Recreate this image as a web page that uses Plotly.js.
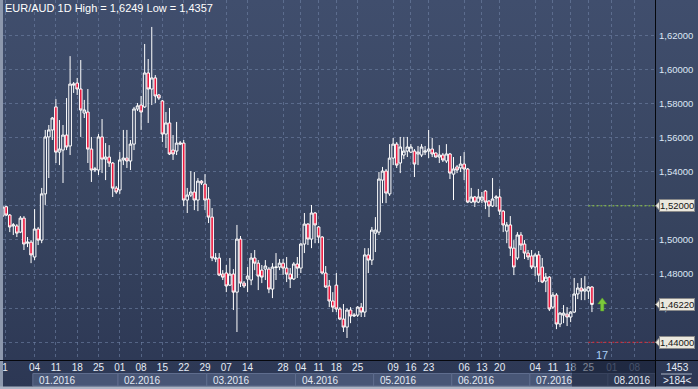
<!DOCTYPE html>
<html><head><meta charset="utf-8">
<script src="https://cdn.plot.ly/plotly-3.0.1.min.js"></script>
<style>
html,body{margin:0;padding:0;background:#2f3a57;}
#wrap{position:relative;width:698px;height:389px;overflow:hidden;
 background:linear-gradient(to bottom,#404e6d 0%,#37445f 55%,#2c3754 100%);}
#chart{position:absolute;left:0;top:0;width:698px;height:389px;}
</style></head><body><div id="wrap"><div id="chart"></div></div>
<script>
// ---- data (EUR/AUD daily candles) ----
const open = [1.5140,1.5195,1.5146,1.5082,1.5082,1.5046,1.5128,1.4981,1.4987,1.4900,1.5064,1.4999,1.5270,1.5604,1.5645,1.5780,1.5515,1.5527,1.5615,1.5551,1.5908,1.5920,1.5885,1.5744,1.5750,1.5533,1.5410,1.5410,1.5604,1.5474,1.5486,1.5451,1.5304,1.5293,1.5469,1.5480,1.5463,1.5562,1.5768,1.5791,1.5780,1.5979,1.5885,1.5950,1.5850,1.5815,1.5621,1.5686,1.5527,1.5521,1.5562,1.5568,1.5234,1.5263,1.5281,1.5234,1.5345,1.5328,1.5240,1.5134,1.4888,1.4894,1.4800,1.4806,1.4735,1.4800,1.4694,1.5005,1.4747,1.4771,1.4765,1.4894,1.4864,1.4823,1.4829,1.4829,1.4712,1.4838,1.4841,1.4864,1.4835,1.4800,1.4771,1.4859,1.4835,1.4976,1.5093,1.5005,1.5158,1.5076,1.5017,1.4806,1.4730,1.4642,1.4735,1.4595,1.4536,1.4489,1.4589,1.4554,1.4559,1.4606,1.4577,1.4912,1.4882,1.5040,1.5046,1.5351,1.5404,1.5270,1.5480,1.5562,1.5451,1.5498,1.5521,1.5515,1.5521,1.5504,1.5498,1.5515,1.5521,1.5533,1.5510,1.5486,1.5498,1.5463,1.5504,1.5386,1.5428,1.5422,1.5445,1.5416,1.5222,1.5252,1.5222,1.5234,1.5287,1.5228,1.5199,1.5246,1.5252,1.5169,1.5052,1.5088,1.4952,1.4894,1.5029,1.4976,1.4923,1.4906,1.4841,1.4912,1.4841,1.4759,1.4782,1.4606,1.4677,1.4507,1.4559,1.4565,1.4548,1.4577,1.4683,1.4718,1.4700,1.4700,1.4724];
const high = [1.5199,1.5201,1.5152,1.5099,1.5093,1.5140,1.5140,1.5017,1.4999,1.5181,1.5076,1.5305,1.5645,1.5674,1.5721,1.5826,1.5703,1.5674,1.5832,1.6078,1.5926,1.5950,1.6055,1.5821,1.5885,1.5604,1.5428,1.5621,1.5709,1.5568,1.5556,1.5457,1.5316,1.5515,1.5645,1.5645,1.5586,1.5780,1.5803,1.5844,1.6149,1.6061,1.6249,1.5967,1.5856,1.5821,1.5750,1.5774,1.5615,1.5692,1.5580,1.5586,1.5305,1.5404,1.5398,1.5363,1.5351,1.5386,1.5310,1.5187,1.4923,1.4923,1.4823,1.4853,1.4894,1.4829,1.5088,1.5023,1.4759,1.4841,1.4923,1.4941,1.4882,1.4853,1.4882,1.4841,1.4864,1.4923,1.4888,1.4888,1.4900,1.4835,1.4870,1.4900,1.4981,1.5158,1.5099,1.5205,1.5164,1.5082,1.5023,1.4847,1.4765,1.4694,1.4806,1.4606,1.4624,1.4600,1.4606,1.4571,1.4612,1.4630,1.4952,1.4952,1.5076,1.5134,1.5398,1.5428,1.5416,1.5562,1.5598,1.5574,1.5604,1.5604,1.5604,1.5562,1.5533,1.5551,1.5562,1.5551,1.5645,1.5598,1.5512,1.5556,1.5510,1.5562,1.5510,1.5486,1.5439,1.5492,1.5515,1.5422,1.5305,1.5258,1.5299,1.5281,1.5293,1.5234,1.5363,1.5263,1.5299,1.5175,1.5105,1.5140,1.4999,1.5046,1.5046,1.4999,1.4941,1.4941,1.4923,1.4935,1.4894,1.4806,1.4788,1.4694,1.4688,1.4577,1.4618,1.4606,1.4583,1.4777,1.4747,1.4777,1.4788,1.4729,1.4729];
const low = [1.5134,1.5140,1.5046,1.5029,1.5017,1.5040,1.4941,1.4958,1.4864,1.4882,1.4970,1.4981,1.5205,1.5363,1.5586,1.5451,1.5439,1.5334,1.5527,1.5498,1.5862,1.5850,1.5604,1.5715,1.5451,1.5340,1.5398,1.5381,1.5392,1.5351,1.5428,1.5252,1.5270,1.5270,1.5439,1.5422,1.5410,1.5527,1.5756,1.5645,1.5774,1.5686,1.5791,1.5803,1.5821,1.5574,1.5539,1.5498,1.5469,1.5498,1.5556,1.5199,1.5158,1.5252,1.5175,1.5169,1.5322,1.5175,1.5099,1.4876,1.4870,1.4788,1.4765,1.4694,1.4730,1.4589,1.4460,1.4724,1.4718,1.4694,1.4735,1.4823,1.4706,1.4747,1.4765,1.4688,1.4659,1.4765,1.4823,1.4794,1.4753,1.4718,1.4765,1.4777,1.4806,1.4923,1.4970,1.4952,1.4981,1.4981,1.4800,1.4718,1.4606,1.4577,1.4577,1.4530,1.4460,1.4425,1.4512,1.4548,1.4548,1.4548,1.4548,1.4806,1.4853,1.4929,1.5029,1.5216,1.5216,1.5258,1.5439,1.5422,1.5392,1.5474,1.5486,1.5510,1.5369,1.5439,1.5486,1.5498,1.5480,1.5486,1.5483,1.5451,1.5457,1.5451,1.5357,1.5234,1.5392,1.5398,1.5351,1.5216,1.5216,1.5193,1.5216,1.5216,1.5181,1.5134,1.5193,1.5193,1.5146,1.5046,1.4981,1.4906,1.4794,1.4882,1.4941,1.4888,1.4882,1.4829,1.4788,1.4753,1.4747,1.4694,1.4583,1.4595,1.4477,1.4489,1.4512,1.4495,1.4518,1.4571,1.4653,1.4647,1.4647,1.4653,1.4577];
const close = [1.5193,1.5146,1.5076,1.5088,1.5040,1.5128,1.4976,1.4987,1.4912,1.5064,1.4999,1.5270,1.5604,1.5645,1.5715,1.5515,1.5533,1.5615,1.5545,1.5914,1.5914,1.5885,1.5762,1.5762,1.5533,1.5410,1.5416,1.5604,1.5474,1.5486,1.5451,1.5304,1.5281,1.5469,1.5480,1.5463,1.5562,1.5768,1.5786,1.5750,1.5979,1.5885,1.5950,1.5844,1.5832,1.5621,1.5686,1.5504,1.5504,1.5568,1.5568,1.5234,1.5263,1.5281,1.5234,1.5345,1.5334,1.5234,1.5134,1.4894,1.4894,1.4794,1.4782,1.4730,1.4800,1.4694,1.5005,1.4747,1.4730,1.4788,1.4894,1.4864,1.4788,1.4782,1.4847,1.4712,1.4841,1.4841,1.4864,1.4835,1.4800,1.4771,1.4859,1.4835,1.4976,1.5093,1.5005,1.5158,1.5088,1.5017,1.4806,1.4724,1.4642,1.4606,1.4595,1.4536,1.4489,1.4589,1.4554,1.4559,1.4606,1.4577,1.4912,1.4882,1.5058,1.5058,1.5357,1.5404,1.5275,1.5480,1.5562,1.5439,1.5545,1.5521,1.5545,1.5545,1.5445,1.5515,1.5545,1.5521,1.5533,1.5504,1.5486,1.5498,1.5469,1.5504,1.5392,1.5416,1.5410,1.5445,1.5416,1.5222,1.5252,1.5222,1.5252,1.5252,1.5222,1.5199,1.5240,1.5252,1.5169,1.5088,1.5088,1.4952,1.4841,1.5029,1.4970,1.4923,1.4900,1.4841,1.4912,1.4794,1.4753,1.4782,1.4595,1.4677,1.4507,1.4571,1.4571,1.4548,1.4577,1.4683,1.4718,1.4700,1.4712,1.4724,1.4622];

const priceTicks = [1.44,1.46,1.48,1.50,1.52,1.54,1.56,1.58,1.60,1.62];
const dayTickBars = [0.7,9,15,21,27,33,39,45,51,57,63,69,79,84,89,94,100,110,115,120,130,135,140,150,155,160,165,171.6,178.0];
const dayTickText = ['1','04','11','18','25','01','08','15','22','29','07','14','28','04','11','18','25','09','16','23','06','13','20','04','11','18','25','01','08'];
const futureTicks = [false,false,false,false,false,false,false,false,false,false,false,false,false,false,false,false,false,false,false,false,false,false,false,false,false,false,false,true,true];
const monthLabels = ['01.2016','02.2016','03.2016','04.2016','05.2016','06.2016','07.2016','08.2016'];
const monthStartBars = [9,33,58,83,105,127,149,171];
const levelValues = [1.52, 1.4622, 1.44];
const levelText = ['1,52000','1,46220','1,44000'];
const dottedLevels = [1.52, 1.44];
const dottedColors = ['#93cc3c','#ec2228'];
const dottedStartBar = 165;
const signalBar = [168.9];
const signalPrice = [1.4660];
const chartTitle = 'EUR/AUD 1D High = 1,6249 Low = 1,4357';
const infoTop = '1453', infoBottom = '>184<', cursorLabel = '17';

// ---- geometry ----
const W = 698, H = 389, ML = 3, MR = 43, MT = 0, MB = 29;
const PW = W - ML - MR, PH = H - MT - MB;
const px = v => (v - ML) / PW;          // pixel -> paper x
const py = v => (H - MB - v) / PH;      // pixel -> paper y
const yMin = 1.4296, yMax = 1.6407, xMin = 0.1, xMax = 183.76;
const perPx = (yMax - yMin) / PH;
const barPx = PW / (xMax - xMin);

const bars = open.map((_, i) => i);
const font = 'Liberation Sans, Arial, sans-serif';
const gridCol = 'rgba(112,130,165,0.6)';

const shapes = [];
const annotations = [];

// side strips and separator lines
shapes.push({type:'rect', xref:'paper', yref:'paper', x0:px(0), x1:px(3), y0:py(H), y1:py(0), fillcolor:'#8d98ad', line:{width:0}, layer:'above'});
shapes.push({type:'rect', xref:'paper', yref:'paper', x0:px(0), x1:px(W), y0:py(H), y1:py(386.5), fillcolor:'#aab3c4', line:{width:0}, layer:'above'});
shapes.push({type:'line', xref:'paper', yref:'paper', x0:px(0), x1:px(W), y0:py(360.5), y1:py(360.5), line:{color:'#05070c', width:1}, layer:'above'});
shapes.push({type:'line', xref:'paper', yref:'paper', x0:px(655.5), x1:px(655.5), y0:py(0), y1:py(386.5), line:{color:'#05070c', width:1}, layer:'above'});

// month boxes on the date axis
monthLabels.forEach((m, i) => {
  const x0 = monthStartBars[i] - 0.5;
  const x1 = i < monthLabels.length - 1 ? monthStartBars[i + 1] - 0.5 : xMax;
  shapes.push({type:'rect', xref:'x', yref:'paper', x0:x0, x1:x1, y0:py(386), y1:py(373.5),
    fillcolor:'#485676', line:{color:'#5f6d8e', width:1}, layer:'below'});
  annotations.push({xref:'x', yref:'paper', x:x0, y:py(380), xanchor:'left', yanchor:'middle', xshift:4,
    text:m, showarrow:false, font:{family:font, size:10, color:'#e3e9f3'}});
});

// dotted level lines
dottedLevels.forEach((v, i) => {
  shapes.push({type:'line', xref:'x', yref:'y', x0:dottedStartBar, x1:xMax, y0:v, y1:v,
    line:{color:dottedColors[i], width:1, dash:'2px,2px'}, layer:'above'});
});

// price badges on the right axis
levelValues.forEach((v, i) => {
  const d = 5 * perPx;
  shapes.push({type:'path', xref:'paper', yref:'y',
    path:`M ${px(655.5)},${v} L ${px(660)},${v + d} L ${px(660)},${v - d} Z`,
    fillcolor:'#ebe8de', line:{color:'#8a8a8a', width:1}, layer:'above'});
  annotations.push({xref:'paper', yref:'y', x:px(659), y:v, xanchor:'left', yanchor:'middle',
    text:levelText[i], showarrow:false, bgcolor:'#ebe8de', bordercolor:'#8a8a8a', borderwidth:1, borderpad:0,
    font:{family:font, size:9.5, color:'#151515'}});
});

// future overlay on the axis panel
shapes.push({type:'rect', xref:'paper', yref:'paper', x0:px(572), x1:px(655), y0:py(386.5), y1:py(361),
  fillcolor:'rgba(18,26,46,0.5)', line:{width:0}, layer:'above'});

// signal arrow (polygon built around the signal point: tip at the signal price)
{
  const cx = signalBar[0], tip = signalPrice[0];
  const bx = p => p / barPx, by = p => p * perPx;
  const pts = [[0,0],[4.5,6],[1.6,6],[1.6,13],[-1.6,13],[-1.6,6],[-4.5,6]];
  const path = pts.map((p, j) => (j ? 'L ' : 'M ') + (cx + bx(p[0])) + ',' + (tip - by(p[1]))).join(' ') + ' Z';
  shapes.push({type:'path', xref:'x', yref:'y', path:path, fillcolor:'#7cc83a', line:{color:'#5fa82a', width:0.5}, layer:'above'});
}

// title
annotations.push({xref:'paper', yref:'paper', x:px(3), y:py(8), xanchor:'left', yanchor:'middle',
  text:chartTitle, showarrow:false, font:{family:font, size:11, color:'#ffffff'}});

// cursor label
annotations.push({xref:'paper', yref:'paper', x:px(602), y:py(355), xanchor:'center', yanchor:'middle',
  text:cursorLabel, showarrow:false, font:{family:font, size:11, color:'#a9cff7'}});

// info box bottom right
annotations.push({xref:'paper', yref:'paper', x:px(677), y:py(367.5), xanchor:'center', yanchor:'middle',
  text:infoTop, showarrow:false, font:{family:font, size:10, color:'#e6ecf5'}});
annotations.push({xref:'paper', yref:'paper', x:px(677), y:py(380.5), xanchor:'center', yanchor:'middle',
  text:infoBottom, showarrow:false, font:{family:font, size:10, color:'#e6ecf5'}});
shapes.push({type:'line', xref:'paper', yref:'paper', x0:px(661), x1:px(692), y0:py(374), y1:py(374),
  line:{color:'#aab4c6', width:1}, layer:'above'});

const tickText = dayTickText.map((t, i) => futureTicks[i] ? `<span style="color:#7c89a6">${t}</span>` : t);

const trace = {
  type:'candlestick', x:bars, open:open, high:high, low:low, close:close,
  increasing:{line:{color:'#ffffff', width:1}, fillcolor:'#34415f'},
  decreasing:{line:{color:'#ffffff', width:1}, fillcolor:'#ec1a40'},
  whiskerwidth:0, hoverinfo:'skip', showlegend:false
};

const layout = {
  width:W, height:H, margin:{l:ML, r:MR, t:MT, b:MB, pad:0},
  paper_bgcolor:'rgba(0,0,0,0)', plot_bgcolor:'rgba(0,0,0,0)',
  separators:', ', showlegend:false, boxgap:0.18, boxgroupgap:0.1,
  font:{family:font, size:10, color:'#e6ecf5'},
  xaxis:{range:[xMin, xMax], tickmode:'array', tickvals:dayTickBars, ticktext:tickText, tickangle:0,
    showgrid:true, gridcolor:gridCol, griddash:'3px,3px', gridwidth:1, zeroline:false, showline:false,
    ticks:'', tickfont:{family:font, size:10, color:'#e6ecf5'}, rangeslider:{visible:false}, fixedrange:true},
  yaxis:{side:'right', range:[yMin, yMax], tickmode:'array', tickvals:priceTicks, tickformat:'.5f',
    showgrid:true, gridcolor:gridCol, griddash:'3px,3px', gridwidth:1, zeroline:false, showline:false,
    ticks:'', ticklabelstandoff:3, tickfont:{family:font, size:9.5, color:'#dde7f5'}, fixedrange:true},
  shapes:shapes, annotations:annotations
};

Plotly.newPlot('chart', [trace], layout, {staticPlot:true, displayModeBar:false});
</script></body></html>
